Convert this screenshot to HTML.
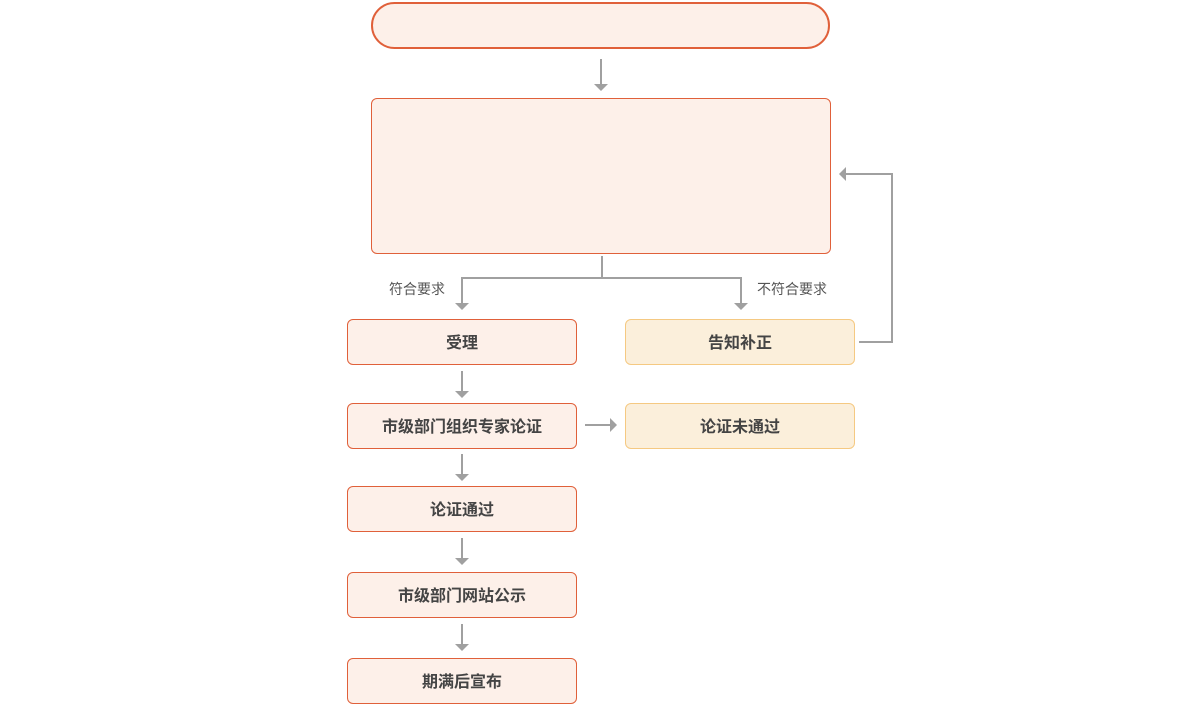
<!DOCTYPE html>
<html><head><meta charset="utf-8"><style>
body{margin:0;width:1200px;height:706px;background:#fff;position:relative;overflow:hidden;font-family:"Liberation Sans","Noto Sans CJK SC",sans-serif}
.b{position:absolute;box-sizing:border-box;background:#fdf0e9;border:1px solid #e0603a;border-radius:6px;display:flex;align-items:center;justify-content:center;font-size:16px;font-weight:bold;color:#444;padding-bottom:2px}
.y{background:#fbefdb;border-color:#f5c982}
.l{position:absolute;font-size:14px;color:#555}
</style></head><body>
<div class="b" style="left:371px;top:2px;width:459px;height:47px;border-radius:24px;border-width:2px"></div>
<div class="b" style="left:371px;top:98px;width:460px;height:156px"></div>
<div class="b" style="left:347px;top:319px;width:230px;height:46px">受理</div>
<div class="b y" style="left:625px;top:319px;width:230px;height:46px">告知补正</div>
<div class="b" style="left:347px;top:403px;width:230px;height:46px">市级部门组织专家论证</div>
<div class="b y" style="left:625px;top:403px;width:230px;height:46px">论证未通过</div>
<div class="b" style="left:347px;top:486px;width:230px;height:46px">论证通过</div>
<div class="b" style="left:347px;top:572px;width:230px;height:46px">市级部门网站公示</div>
<div class="b" style="left:347px;top:658px;width:230px;height:46px">期满后宣布</div>
<div class="l" style="left:389px;top:279px">符合要求</div>
<div class="l" style="left:757px;top:279px">不符合要求</div>
<svg width="1200" height="706" style="position:absolute;left:0;top:0" fill="#a0a0a0" stroke="#a0a0a0" stroke-width="2">
<g fill="none">
<path d="M601 59V85"/>
<path d="M602 256V278H462V304M602 278H741V304"/>
<path d="M859 342H892V174H845"/>
<path d="M462 371V392M462 454V475M462 538V559M462 624V645"/>
<path d="M585 425H611"/>
</g>
<g stroke="none">
<path d="M594 84h14l-7 7z"/>
<path d="M455 303h14l-7 7z"/><path d="M734 303h14l-7 7z"/>
<path d="M846 167v14l-7-7z"/>
<path d="M455 391h14l-7 7z"/><path d="M455 474h14l-7 7z"/><path d="M455 558h14l-7 7z"/><path d="M455 644h14l-7 7z"/>
<path d="M610 418v14l7-7z"/>
</g>
</svg>
</body></html>
